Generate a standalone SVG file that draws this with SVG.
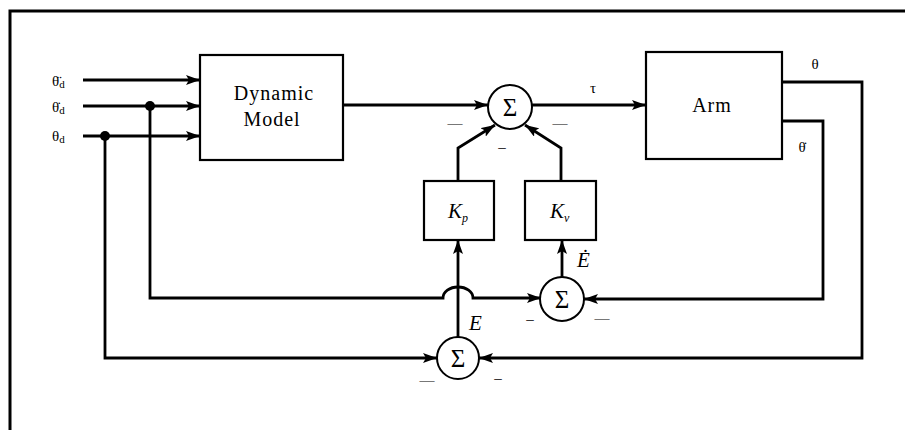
<svg xmlns="http://www.w3.org/2000/svg" width="905" height="430" viewBox="0 0 905 430" font-family="'Liberation Serif', 'DejaVu Serif', serif">
<defs>
<marker id="ah" viewBox="0 0 14 10" refX="14" refY="5" markerWidth="14" markerHeight="10" markerUnits="userSpaceOnUse" orient="auto">
<path d="M0,0 L14,5 L0,10 L3,5 Z" fill="#000"/>
</marker>
</defs>
<style>
.box{fill:#fff;stroke:#000;stroke-width:2.2}
.sum{fill:#fff;stroke:#000;stroke-width:2}
.arr{fill:none;stroke:#000;stroke-width:2.8;marker-end:url(#ah)}
text{font-family:'Liberation Serif','DejaVu Serif',serif;fill:#000}
.lbl{font-size:20px;text-anchor:middle;letter-spacing:1px}
.sm{font-size:15px}
.sig{font-size:25px;text-anchor:middle}
.k{font-size:21px;font-style:italic}
.mn{font-size:15px;text-anchor:middle}
</style>
<rect width="905" height="430" fill="#fff"/>
<path d="M10,430 V11 H905" fill="none" stroke="#000" stroke-width="3"/>

<g id="connectors">
<path class="arr" d="M83,80 H200"/>
<path class="arr" d="M83,106 H200"/>
<path class="arr" d="M83,136 H200"/>
<circle cx="150" cy="106" r="5" fill="#000"/>
<circle cx="105" cy="136" r="5" fill="#000"/>
<path class="arr" d="M150,106 V298 H443 A15,11 0 0 1 473,298 H541"/>
<path class="arr" d="M105,136 V358 H437"/>
<path class="arr" d="M343,105 H488"/>
<path class="arr" d="M532,105 H646"/>
<path class="arr" d="M782,82 H862 V358 H479"/>
<path class="arr" d="M782,121 H823 V299 H584"/>
<path class="arr" d="M458,338 V240"/>
<path class="arr" d="M562,277 V240"/>
<path class="arr" d="M458,181 V148 L495,125"/>
<path class="arr" d="M561,181 V148 L525,125"/>
</g>

<g id="inputs">
<text class="sm" x="52" y="86">θ̈<tspan font-size="11" dy="2">d</tspan></text>
<text class="sm" x="52" y="112">θ̇<tspan font-size="11" dy="2">d</tspan></text>
<text class="sm" x="52" y="141">θ<tspan font-size="11" dy="2">d</tspan></text>
</g>

<g id="dynamic-model">
<rect class="box" x="200" y="55" width="143" height="105"/>
<text class="lbl" x="274" y="100">Dynamic</text>
<text class="lbl" x="272" y="126">Model</text>
</g>

<g id="sum1">
<circle class="sum" cx="510" cy="107" r="22"/>
<text class="sig" x="510" y="116">Σ</text>
<text class="mn" x="455" y="128">—</text>
<text class="mn" x="560" y="128">—</text>
<text class="mn" x="502" y="152">–</text>
</g>

<g id="tau-label">
<text class="sm" x="593" y="93" text-anchor="middle">τ</text>
</g>

<g id="arm">
<rect class="box" x="646" y="52" width="136" height="107"/>
<text class="lbl" x="712" y="112">Arm</text>
<text class="sm" x="815" y="69" text-anchor="middle">θ</text>
<text class="sm" x="802" y="152" text-anchor="middle">θ̇</text>
</g>

<g id="kp">
<rect class="box" x="424" y="181" width="70" height="59"/>
<text class="k" x="448" y="218">K<tspan font-size="12" dy="4">p</tspan></text>
</g>

<g id="kv">
<rect class="box" x="525" y="181" width="71" height="59"/>
<text class="k" x="550" y="218">K<tspan font-size="12" dy="4">v</tspan></text>
</g>

<g id="sum2">
<circle class="sum" cx="562" cy="299" r="22"/>
<text class="sig" x="562" y="308">Σ</text>
<text class="mn" x="530" y="324">–</text>
<text class="mn" x="602" y="323">—</text>
<text class="k" x="577" y="267" font-size="18">Ė</text>
</g>

<g id="sum3">
<circle class="sum" cx="458" cy="358" r="21"/>
<text class="sig" x="458" y="367">Σ</text>
<text class="mn" x="427" y="385">—</text>
<text class="mn" x="498" y="383">–</text>
<text class="k" x="469" y="330" font-size="19">E</text>
</g>
</svg>
